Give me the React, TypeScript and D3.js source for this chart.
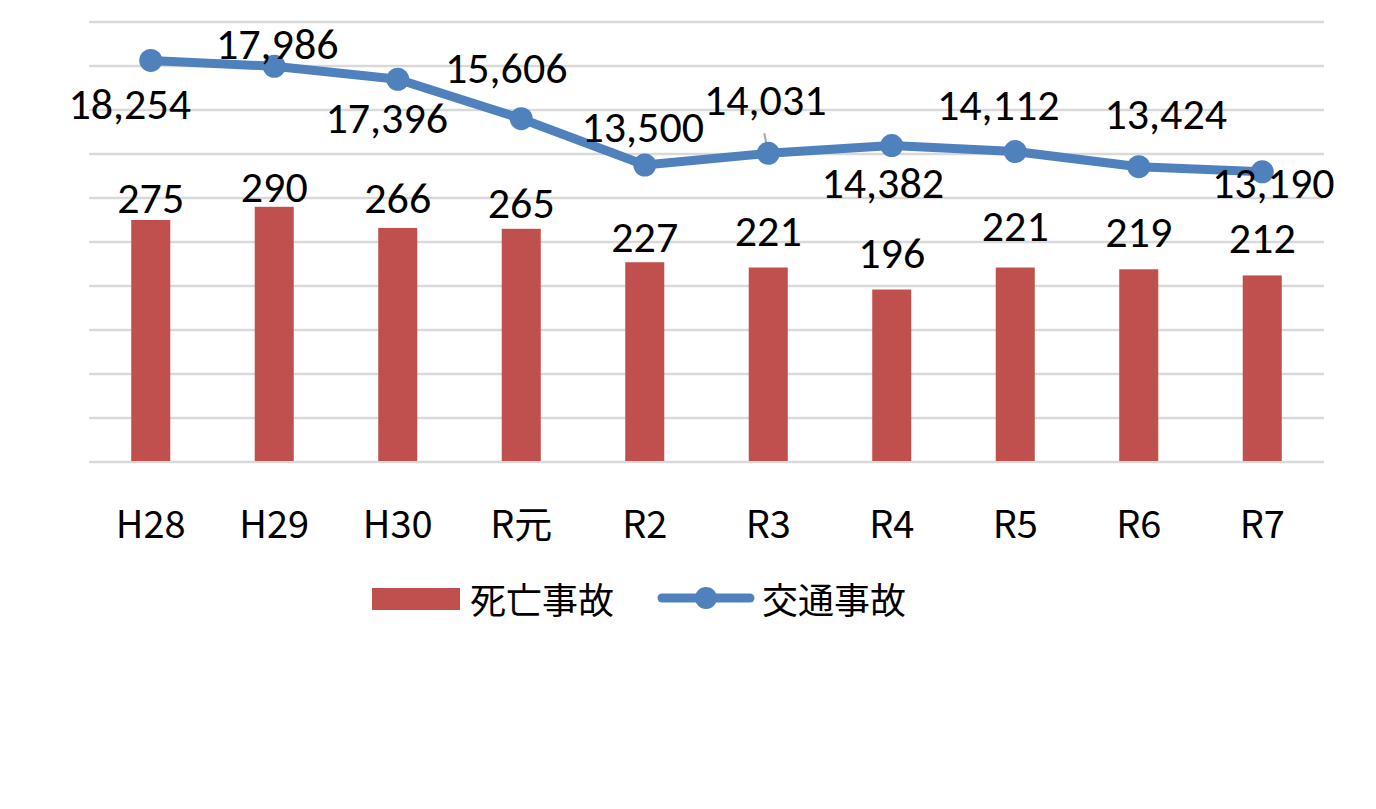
import * as d3 from 'd3';

const years = ['H28', 'H29', 'H30', 'R元', 'R2', 'R3', 'R4', 'R5', 'R6', 'R7'];
const deaths = [275, 290, 266, 265, 227, 221, 196, 221, 219, 212];
const accidents = [18254, 17986, 17396, 15606, 13500, 14031, 14382, 14112, 13424, 13190];
const barTicks = [0, 50, 100, 150, 200, 250, 300, 350, 400, 450, 500];

// hand-placed label nudges (dx, dy from the point / bar top)
const lineLabelNudge: [number, number][] = [
  [-21, 59], [3, -7], [-11, 54], [-15, -36], [-2, -23],
  [-3, -38], [-9, 52], [-17, -32], [27, -38], [11, 26],
];
const barLabelNudge = [-7, -5, -15, -11, -10, -22, -22, -27, -22, -22];

const W = 1376;
const H = 809;
const left = 89;
const right = 1324;
const top = 22;
const bottom = 462;

const BAR = '#C0504D';
const LINE = '#4F81BD';
const GRID = '#D9D9D9';
const numFont = "Carlito, 'Noto Sans', sans-serif";
const jpFont = "'Noto Sans CJK JP', sans-serif";

export default function App() {
  const x = d3.scaleBand<string>().domain(years).range([left, right]);
  const yBar = d3.scaleLinear().domain([0, 500]).range([bottom, top]);
  const yLine = d3.scaleLinear().domain([0, 20000]).range([bottom, top]);
  const cx = (d: string) => (x(d) ?? 0) + x.bandwidth() / 2;
  const barW = x.bandwidth() * 0.316;
  const fmt = d3.format(',');

  const linePath = d3
    .line<number>()
    .x((_, i) => cx(years[i]))
    .y((v) => yLine(v))(accidents);

  // leader line for R3 label
  const r3 = 5;
  const r3x = cx(years[r3]);
  const r3y = yLine(accidents[r3]);

  return (
    <div style={{ position: 'absolute', left: 0, top: 0 }}>
      <svg width={W} height={H} style={{ display: 'block', background: '#fff' }}>
        {barTicks.map((t) => (
          <line key={t} x1={left} x2={right} y1={yBar(t)} y2={yBar(t)} stroke={GRID} strokeWidth={2.5} />
        ))}

        {deaths.map((v, i) => (
          <rect
            key={years[i]}
            x={cx(years[i]) - barW / 2}
            y={yBar(v)}
            width={barW}
            height={bottom - yBar(v) - 1}
            fill={BAR}
          />
        ))}

        {deaths.map((v, i) => (
          <text
            key={'bl' + i}
            x={cx(years[i])}
            y={yBar(v) + barLabelNudge[i]}
            textAnchor="middle"
            fontFamily={numFont}
            fontSize={44}
            fill="#000"
          >
            {v}
          </text>
        ))}

        <line x1={r3x - 4} y1={r3y - 20} x2={r3x} y2={r3y} stroke="#A6A6A6" strokeWidth={2} />

        <path d={linePath ?? ''} fill="none" stroke={LINE} strokeWidth={9} strokeLinejoin="round" />
        {accidents.map((v, i) => (
          <circle key={'pt' + i} cx={cx(years[i])} cy={yLine(v)} r={11.5} fill={LINE} />
        ))}

        {accidents.map((v, i) => (
          <text
            key={'ll' + i}
            x={cx(years[i]) + lineLabelNudge[i][0]}
            y={yLine(v) + lineLabelNudge[i][1]}
            textAnchor="middle"
            fontFamily={numFont}
            fontSize={44}
            fill="#000"
          >
            {fmt(v)}
          </text>
        ))}

        {years.map((d) => (
          <text
            key={'ax' + d}
            x={cx(d)}
            y={538}
            textAnchor="middle"
            fontFamily={jpFont}
            fontSize={38}
            fill="#000"
          >
            {d}
          </text>
        ))}

        <g fontFamily={jpFont} fontSize={36} fill="#000">
          <rect x={372} y={588} width={88} height={22} fill={BAR} />
          <text x={470} y={598} dominantBaseline="central">死亡事故</text>
          <line x1={662} x2={750} y1={598} y2={598} stroke={LINE} strokeWidth={9} strokeLinecap="round" />
          <circle cx={706} cy={598} r={11} fill={LINE} />
          <text x={762} y={598} dominantBaseline="central">交通事故</text>
        </g>
      </svg>
    </div>
  );
}
